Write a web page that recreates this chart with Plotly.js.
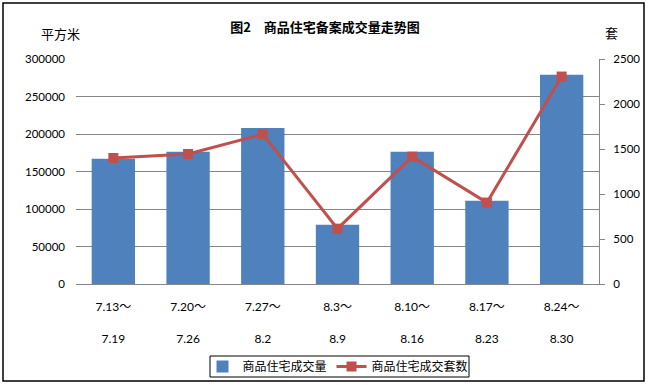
<!DOCTYPE html>
<html>
<head>
<meta charset="utf-8">
<script src="https://cdn.plot.ly/plotly-3.0.1.min.js"></script>
<style>html,body{margin:0;padding:0;background:#fff;}</style>
</head>
<body>
<div id="chart" style="width:650px;height:385px;"></div>
<script>
// Data
var weekStart = ["7.13～", "7.20～", "7.27～", "8.3～", "8.10～", "8.17～", "8.24～"];
var weekEnd   = ["7.19", "7.26", "8.2", "8.9", "8.16", "8.23", "8.30"];
var areaSold  = [167000, 176500, 208000, 79000, 176500, 111000, 279000];   // 平方米
var unitsSold = [1400, 1445, 1665, 615, 1415, 905, 2305];                  // 套

var categories = weekStart.map(function (s, i) { return s + weekEnd[i]; });
var tickText = weekStart.map(function (s, i) { return s + "<br><br>" + weekEnd[i]; });

var FONT = "Lato, 'Noto Sans CJK SC', sans-serif";
var CJK = "'Noto Sans CJK SC', sans-serif";

var traces = [
  {
    type: "bar",
    name: "商品住宅成交量",
    x: categories,
    y: areaSold,
    marker: { color: "#4F81BD" },
    yaxis: "y"
  },
  {
    type: "scatter",
    mode: "lines+markers",
    name: "商品住宅成交套数",
    x: categories,
    y: unitsSold,
    yaxis: "y2",
    line: { color: "#C0504D", width: 3 },
    marker: { symbol: "square", size: 10, color: "#C0504D" }
  }
];

var layout = {
  width: 650,
  height: 385,
  margin: { l: 76, r: 51, t: 59, b: 101 },
  paper_bgcolor: "#ffffff",
  plot_bgcolor: "#ffffff",
  font: { family: FONT, size: 11.5, color: "#000" },
  showlegend: true,
  bargap: 0.42,
  title: {
    text: "<b>图2　商品住宅备案成交量走势图</b>",
    font: { family: CJK, size: 13, color: "#000" },
    x: 0.5, xref: "container", xanchor: "center",
    y: 1 - 27 / 385, yref: "container", yanchor: "middle"
  },
  xaxis: {
    type: "category",
    tickvals: categories,
    ticktext: tickText,
    showgrid: false,
    showline: true,
    linecolor: "#868686",
    linewidth: 1,
    ticks: "",
    tickfont: { family: FONT, size: 12 },
    ticklabelstandoff: 12,
    automargin: false,
    fixedrange: true
  },
  yaxis: {
    range: [0, 300000],
    dtick: 50000,
    showgrid: true,
    gridcolor: "#868686",
    gridwidth: 1,
    zeroline: false,
    showline: false,
    ticks: "",
    ticklabelstandoff: 10,
    tickfont: { family: FONT, size: 11.5 },
    tickformat: "d",
    automargin: false
  },
  yaxis2: {
    overlaying: "y",
    side: "right",
    range: [0, 2500],
    dtick: 500,
    showgrid: false,
    zeroline: false,
    showline: true,
    linecolor: "#868686",
    linewidth: 1,
    ticks: "outside",
    ticklen: 5,
    tickcolor: "#868686",
    ticklabelstandoff: 6,
    tickfont: { family: FONT, size: 11.5 },
    tickformat: "d",
    automargin: false
  },
  legend: {
    orientation: "h",
    x: (338 - 76) / 523,
    xanchor: "center",
    yref: "container",
    y: 1 - 366.5 / 385,
    yanchor: "middle",
    bgcolor: "rgba(0,0,0,0)",
    borderwidth: 0,
    font: { family: CJK, size: 12 },
    itemwidth: 30,
    tracegroupgap: 0
  },
  annotations: [
    {
      text: "平方米", xref: "paper", yref: "paper",
      x: (60 - 76) / 523, y: (284 - 34) / 225,
      xanchor: "center", yanchor: "middle", showarrow: false,
      font: { family: CJK, size: 13, color: "#000" }
    },
    {
      text: "套", xref: "paper", yref: "paper",
      x: (611 - 76) / 523, y: (284 - 33) / 225,
      xanchor: "center", yanchor: "middle", showarrow: false,
      font: { family: CJK, size: 13, color: "#000" }
    }
  ],
  shapes: [
    {
      type: "rect", xref: "paper", yref: "paper",
      x0: (3 - 76) / 523, x1: (644 - 76) / 523,
      y0: (284 - 381) / 225, y1: (284 - 3) / 225,
      line: { color: "#000", width: 1.5 },
      fillcolor: "rgba(0,0,0,0)",
      layer: "below"
    },
    {
      type: "rect", xref: "paper", yref: "paper",
      x0: (210 - 76) / 523, x1: (469 - 76) / 523,
      y0: (284 - 377) / 225, y1: (284 - 356) / 225,
      line: { color: "#000", width: 1 },
      fillcolor: "rgba(0,0,0,0)",
      layer: "below"
    }
  ]
};

Plotly.newPlot("chart", traces, layout, { displayModeBar: false, staticPlot: true });
</script>
</body>
</html>
